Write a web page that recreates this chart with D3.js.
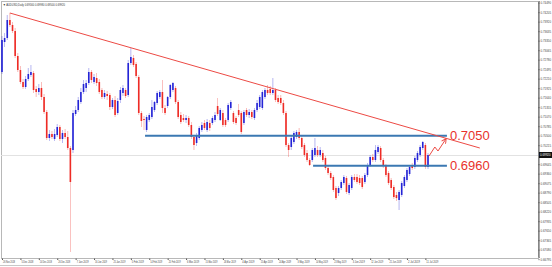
<!DOCTYPE html>
<html>
<head>
<meta charset="utf-8">
<script src="https://cdn.jsdelivr.net/npm/d3@7"></script>
<style>
  body { margin: 0; background: #fff; }
  svg { display: block; font-family: 'Liberation Sans', Arial, sans-serif; }
</style>
</head>
<body>
<div id="chart"></div>
<script>
// AUDUSD daily candles (one entry per bar)
const opens = [
  0.7241, 0.7331, 0.7343, 0.7397, 0.7382, 0.7364, 0.7289, 0.7247, 0.7211, 0.7196,
  0.7220, 0.7232, 0.7238, 0.7190, 0.7181, 0.7193, 0.7166, 0.7121, 0.7043, 0.7055,
  0.7040, 0.7052, 0.7076, 0.7040, 0.7058, 0.7046, 0.7013, 0.7007, 0.7115, 0.7127,
  0.7151, 0.7181, 0.7193, 0.7208, 0.7241, 0.7211, 0.7223, 0.7211, 0.7187, 0.7166,
  0.7175, 0.7172, 0.7136, 0.7157, 0.7118, 0.7157, 0.7178, 0.7187, 0.7172, 0.7268,
  0.7283, 0.7265, 0.7226, 0.7118, 0.7100, 0.7067, 0.7097, 0.7106, 0.7127, 0.7148,
  0.7166, 0.7181, 0.7133, 0.7139, 0.7166, 0.7187, 0.7193, 0.7151, 0.7112, 0.7103,
  0.7097, 0.7103, 0.7082, 0.7046, 0.7028, 0.7043, 0.7067, 0.7088, 0.7067, 0.7088,
  0.7088, 0.7097, 0.7139, 0.7097, 0.7118, 0.7097, 0.7097, 0.7133, 0.7118, 0.7103,
  0.7127, 0.7118, 0.7088, 0.7127, 0.7112, 0.7121, 0.7103, 0.7127, 0.7136, 0.7133,
  0.7166, 0.7187, 0.7190, 0.7178, 0.7187, 0.7163, 0.7163, 0.7148, 0.7118, 0.7022,
  0.7016, 0.7031, 0.7046, 0.7061, 0.7043, 0.7022, 0.6998, 0.6977, 0.6977, 0.6992,
  0.7007, 0.6992, 0.6998, 0.6983, 0.6953, 0.6938, 0.6926, 0.6893, 0.6878, 0.6893,
  0.6908, 0.6923, 0.6878, 0.6893, 0.6926, 0.6926, 0.6923, 0.6923, 0.6911, 0.6932,
  0.6962, 0.6986, 0.6977, 0.7001, 0.7013, 0.6977, 0.6959, 0.6938, 0.6917, 0.6896,
  0.6872, 0.6857, 0.6872, 0.6899, 0.6917, 0.6935, 0.6962, 0.6956, 0.6977, 0.6992,
  0.7013, 0.7022, 0.6956
];
const highs = [
  0.7349, 0.7358, 0.7412, 0.7418, 0.7391, 0.7373, 0.7298, 0.7259, 0.7220, 0.7229,
  0.7253, 0.7262, 0.7244, 0.7199, 0.7205, 0.7211, 0.7175, 0.7127, 0.7067, 0.7064,
  0.7070, 0.7085, 0.7082, 0.7067, 0.7070, 0.7064, 0.7019, 0.7127, 0.7139, 0.7166,
  0.7193, 0.7217, 0.7217, 0.7253, 0.7247, 0.7235, 0.7238, 0.7220, 0.7193, 0.7187,
  0.7184, 0.7178, 0.7163, 0.7169, 0.7163, 0.7196, 0.7202, 0.7193, 0.7277, 0.7313,
  0.7292, 0.7271, 0.7232, 0.7124, 0.7109, 0.7112, 0.7118, 0.7157, 0.7154, 0.7184,
  0.7187, 0.7217, 0.7142, 0.7169, 0.7205, 0.7211, 0.7199, 0.7157, 0.7121, 0.7115,
  0.7112, 0.7109, 0.7091, 0.7052, 0.7058, 0.7079, 0.7091, 0.7097, 0.7100, 0.7097,
  0.7109, 0.7121, 0.7163, 0.7133, 0.7127, 0.7103, 0.7148, 0.7157, 0.7124, 0.7109,
  0.7145, 0.7124, 0.7127, 0.7133, 0.7130, 0.7127, 0.7133, 0.7157, 0.7172, 0.7187,
  0.7193, 0.7202, 0.7199, 0.7223, 0.7193, 0.7172, 0.7172, 0.7157, 0.7124, 0.7028,
  0.7049, 0.7064, 0.7067, 0.7073, 0.7049, 0.7028, 0.7007, 0.6983, 0.7013, 0.7043,
  0.7019, 0.7016, 0.7007, 0.6989, 0.6959, 0.6944, 0.6932, 0.6899, 0.6899, 0.6917,
  0.6932, 0.6929, 0.6908, 0.6932, 0.6935, 0.6935, 0.6932, 0.6929, 0.6938, 0.6968,
  0.6992, 0.6995, 0.7022, 0.7022, 0.7019, 0.6983, 0.6965, 0.6944, 0.6923, 0.6902,
  0.6881, 0.6887, 0.6914, 0.6932, 0.6953, 0.6962, 0.6968, 0.6989, 0.7004, 0.7022,
  0.7034, 0.7028, 0.6998
];
const lows = [
  0.7235, 0.7316, 0.7337, 0.7376, 0.7358, 0.7283, 0.7241, 0.7205, 0.7190, 0.7190,
  0.7214, 0.7226, 0.7178, 0.7166, 0.7172, 0.7157, 0.7115, 0.7037, 0.7034, 0.7040,
  0.7034, 0.7046, 0.7034, 0.7028, 0.7040, 0.7007, 0.6701, 0.6998, 0.7109, 0.7121,
  0.7145, 0.7175, 0.7181, 0.7202, 0.7208, 0.7205, 0.7199, 0.7175, 0.7160, 0.7160,
  0.7157, 0.7127, 0.7130, 0.7106, 0.7112, 0.7148, 0.7169, 0.7163, 0.7166, 0.7262,
  0.7256, 0.7223, 0.7112, 0.7076, 0.7067, 0.7061, 0.7091, 0.7100, 0.7121, 0.7142,
  0.7160, 0.7118, 0.7112, 0.7133, 0.7160, 0.7181, 0.7145, 0.7100, 0.7085, 0.7091,
  0.7088, 0.7076, 0.7040, 0.7007, 0.7019, 0.7037, 0.7061, 0.7067, 0.7061, 0.7064,
  0.7082, 0.7091, 0.7109, 0.7094, 0.7076, 0.7076, 0.7091, 0.7127, 0.7085, 0.7082,
  0.7106, 0.7055, 0.7082, 0.7106, 0.7103, 0.7100, 0.7097, 0.7121, 0.7130, 0.7127,
  0.7160, 0.7172, 0.7172, 0.7172, 0.7151, 0.7145, 0.7142, 0.7112, 0.7016, 0.6986,
  0.7007, 0.7025, 0.7040, 0.7037, 0.7010, 0.6986, 0.6971, 0.6959, 0.6971, 0.6986,
  0.6986, 0.6986, 0.6971, 0.6947, 0.6932, 0.6917, 0.6881, 0.6857, 0.6869, 0.6887,
  0.6902, 0.6875, 0.6872, 0.6887, 0.6911, 0.6905, 0.6902, 0.6890, 0.6905, 0.6926,
  0.6956, 0.6971, 0.6971, 0.6995, 0.6971, 0.6953, 0.6926, 0.6902, 0.6887, 0.6860,
  0.6854, 0.6827, 0.6866, 0.6893, 0.6911, 0.6929, 0.6947, 0.6950, 0.6971, 0.6986,
  0.7007, 0.6950, 0.6950
];
const closes = [
  0.7337, 0.7343, 0.7397, 0.7382, 0.7364, 0.7289, 0.7247, 0.7211, 0.7196, 0.7220,
  0.7235, 0.7241, 0.7187, 0.7181, 0.7193, 0.7166, 0.7121, 0.7043, 0.7055, 0.7046,
  0.7055, 0.7076, 0.7040, 0.7058, 0.7046, 0.7013, 0.6911, 0.7118, 0.7127, 0.7157,
  0.7181, 0.7205, 0.7208, 0.7241, 0.7217, 0.7226, 0.7208, 0.7181, 0.7166, 0.7178,
  0.7169, 0.7136, 0.7157, 0.7112, 0.7154, 0.7187, 0.7193, 0.7169, 0.7268, 0.7286,
  0.7262, 0.7229, 0.7118, 0.7094, 0.7097, 0.7106, 0.7112, 0.7136, 0.7151, 0.7178,
  0.7181, 0.7133, 0.7118, 0.7166, 0.7202, 0.7208, 0.7151, 0.7106, 0.7091, 0.7097,
  0.7103, 0.7082, 0.7046, 0.7022, 0.7052, 0.7073, 0.7082, 0.7073, 0.7091, 0.7073,
  0.7103, 0.7112, 0.7115, 0.7127, 0.7082, 0.7082, 0.7142, 0.7151, 0.7091, 0.7088,
  0.7112, 0.7061, 0.7121, 0.7112, 0.7121, 0.7106, 0.7127, 0.7148, 0.7166, 0.7181,
  0.7187, 0.7178, 0.7178, 0.7187, 0.7157, 0.7151, 0.7148, 0.7118, 0.7022, 0.7007,
  0.7043, 0.7058, 0.7061, 0.7043, 0.7016, 0.6992, 0.6977, 0.6962, 0.7007, 0.7013,
  0.6992, 0.7007, 0.6977, 0.6953, 0.6938, 0.6923, 0.6887, 0.6863, 0.6893, 0.6911,
  0.6926, 0.6881, 0.6902, 0.6926, 0.6917, 0.6911, 0.6908, 0.6896, 0.6932, 0.6962,
  0.6986, 0.6977, 0.7007, 0.7016, 0.6977, 0.6959, 0.6932, 0.6908, 0.6893, 0.6866,
  0.6863, 0.6881, 0.6908, 0.6926, 0.6947, 0.6956, 0.6953, 0.6983, 0.6998, 0.7016,
  0.7031, 0.6956, 0.6992
];

// bottom axis: a label every 7 bars
const dateTickBars = [0, 7, 14, 21, 28, 35, 42, 49, 56, 63, 70, 77, 84, 91, 98, 105, 112, 119, 126, 133, 140, 147, 154, 161];
const dateLabels = [
  '26 Nov 2018', '5 Dec 2018', '14 Dec 2018', '26 Dec 2018', '7 Jan 2019', '16 Jan 2019',
  '25 Jan 2019', '5 Feb 2019', '14 Feb 2019', '25 Feb 2019', '6 Mar 2019', '15 Mar 2019',
  '26 Mar 2019', '4 Apr 2019', '15 Apr 2019', '24 Apr 2019', '3 May 2019', '14 May 2019',
  '23 May 2019', '3 Jun 2019', '12 Jun 2019', '21 Jun 2019', '2 Jul 2019', '11 Jul 2019'
];

// right price scale
const priceTicks = [
  0.74490, 0.74205, 0.73920, 0.73635, 0.73350, 0.73065, 0.72780, 0.72495, 0.72210, 0.71925,
  0.71640, 0.71355, 0.71070, 0.70785, 0.70500, 0.70215, 0.69645, 0.69360, 0.69075, 0.68790,
  0.68505, 0.68220, 0.67935, 0.67650, 0.67365, 0.67080, 0.66795
];
const lastPrice = 0.6992;
const titleText = 'AUDUSD,Daily  0.69560 0.69980 0.69500 0.69920';

// drawn objects
const levelPrices = [0.7050, 0.6960];
const levelLabels = ['0.7050', '0.6960'];
const levelStartBars = [54.4, 118.3];
const levelEndBar = 169.2;
const trendBars = [3, 181.7];
const trendPrices = [0.7418, 0.7013];
const arrowBars = [162.4, 164.6, 165.8, 168.8];
const arrowPrices = [0.6989, 0.7016, 0.7004, 0.7040];

const W = 552, H = 267;
const plot = { left: 1, right: 538, top: 1, bottom: 258 };
const BLUE = '#2424d6', RED = '#ee2b25';

const svg = d3.select('#chart').append('svg')
  .attr('width', W)
  .attr('height', H);

const x = d3.scaleLinear().domain([0, 162]).range([2, 428]);
const y = d3.scaleLinear().domain([0.6686, 0.7454]).range([257, 1]);

// frame
svg.append('rect')
  .attr('x', plot.left + 0.5).attr('y', plot.top + 0.5)
  .attr('width', plot.right - plot.left).attr('height', plot.bottom - plot.top)
  .attr('fill', 'none').attr('stroke', '#b8b8b8').attr('stroke-width', 1);

svg.append('line')
  .attr('x1', 0).attr('x2', W).attr('y1', 265.5).attr('y2', 265.5)
  .attr('stroke', '#c8c8c8');

// current price line
svg.append('line')
  .attr('x1', plot.left).attr('x2', plot.right)
  .attr('y1', Math.round(y(lastPrice)) + 0.5).attr('y2', Math.round(y(lastPrice)) + 0.5)
  .attr('stroke', '#e2e2e2').attr('stroke-width', 1);

// title
svg.append('text')
  .attr('x', 3).attr('y', 5.5)
  .attr('font-size', '3.6px').attr('fill', '#333')
  .attr('textLength', 62).attr('lengthAdjust', 'spacingAndGlyphs')
  .text('\u25BC ' + titleText);

// candles
const bars = d3.range(opens.length).map((i) => ({
  i, o: opens[i], h: highs[i], l: lows[i], c: closes[i],
}));

const candle = svg.append('g').selectAll('g').data(bars).join('g');

candle.append('line')
  .attr('x1', (d) => x(d.i)).attr('x2', (d) => x(d.i))
  .attr('y1', (d) => y(d.h)).attr('y2', (d) => y(d.l))
  .attr('stroke', (d) => (d.c >= d.o ? BLUE : RED))
  .attr('stroke-width', 0.6)
  .attr('opacity', 0.55);

candle.append('rect')
  .attr('x', (d) => x(d.i) - 0.8)
  .attr('width', 1.6)
  .attr('y', (d) => Math.min(y(d.o), y(d.c)))
  .attr('height', (d) => Math.max(1, Math.abs(y(d.o) - y(d.c))))
  .attr('fill', (d) => (d.c >= d.o ? BLUE : RED));

// support / resistance levels
levelPrices.forEach((p, k) => {
  svg.append('line')
    .attr('x1', x(levelStartBars[k])).attr('x2', x(levelEndBar))
    .attr('y1', y(p)).attr('y2', y(p))
    .attr('stroke', '#3b78b2').attr('stroke-width', 2);
  svg.append('text')
    .attr('x', x(levelEndBar) + 3).attr('y', y(p))
    .attr('dy', '0.36em')
    .attr('font-size', '13px').attr('fill', '#e8322c')
    .text(levelLabels[k]);
});

// falling trendline
svg.append('line')
  .attr('x1', x(trendBars[0])).attr('y1', y(trendPrices[0]))
  .attr('x2', x(trendBars[1])).attr('y2', y(trendPrices[1]))
  .attr('stroke', '#ec4a44').attr('stroke-width', 1);

// projected path arrow
svg.append('defs').append('marker')
  .attr('id', 'head').attr('viewBox', '0 0 10 10')
  .attr('refX', 8).attr('refY', 5)
  .attr('markerWidth', 6).attr('markerHeight', 6)
  .attr('orient', 'auto')
  .append('path').attr('d', 'M1,1 L9,5 L1,9').attr('fill', 'none')
  .attr('stroke', '#ec4a44').attr('stroke-width', 1.6);

svg.append('path')
  .attr('d', d3.line()(arrowBars.map((b, k) => [x(b), y(arrowPrices[k])])))
  .attr('fill', 'none').attr('stroke', '#ec4a44').attr('stroke-width', 1)
  .attr('marker-end', 'url(#head)');

// price axis
const yAxis = svg.append('g')
  .attr('transform', `translate(${plot.right + 0.5},0)`)
  .call(d3.axisRight(y).tickValues(priceTicks).tickFormat(d3.format('.5f')).tickSize(1).tickPadding(1));
yAxis.select('.domain').attr('stroke', '#555');
yAxis.selectAll('.tick line').attr('stroke', '#555');
yAxis.selectAll('text')
  .attr('font-size', '3.1px').attr('fill', '#444').attr('font-family', null)
  .attr('textLength', 10.5).attr('lengthAdjust', 'spacingAndGlyphs');

// last price box
svg.append('rect')
  .attr('x', plot.right + 1).attr('y', y(lastPrice) - 3)
  .attr('width', W - plot.right - 1).attr('height', 6)
  .attr('fill', '#111');
svg.append('text')
  .attr('x', plot.right + 2).attr('y', y(lastPrice))
  .attr('dy', '0.35em')
  .attr('font-size', '3.1px').attr('fill', '#fff')
  .attr('textLength', 10.5).attr('lengthAdjust', 'spacingAndGlyphs')
  .text(d3.format('.5f')(lastPrice));

// date axis
const xAxis = svg.append('g')
  .attr('transform', `translate(0,${plot.bottom + 0.5})`)
  .call(d3.axisBottom(x).tickValues(dateTickBars)
    .tickFormat((d, k) => dateLabels[k]).tickSize(1.5).tickPadding(0.5));
xAxis.select('.domain').remove();
xAxis.selectAll('.tick line').attr('stroke', '#555');
xAxis.selectAll('text')
  .attr('text-anchor', 'start').attr('x', 0.5)
  .attr('font-size', '2.9px').attr('fill', '#444').attr('font-family', null)
  .attr('textLength', 12).attr('lengthAdjust', 'spacingAndGlyphs');
</script>
</body>
</html>
